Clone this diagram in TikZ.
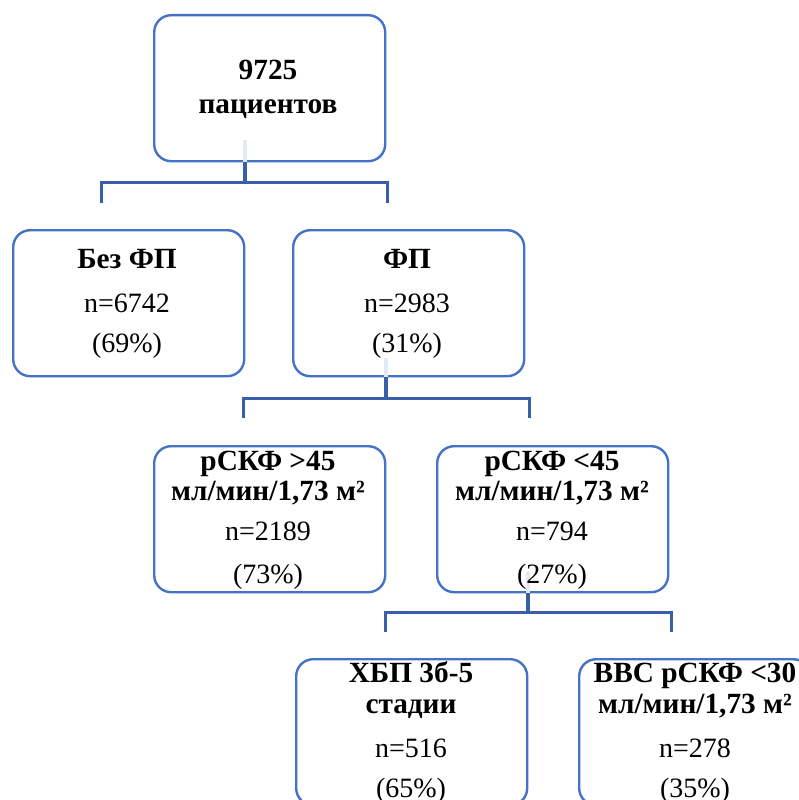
\documentclass[tikz,border=0pt]{standalone}
\usepackage{fontspec}
\setmainfont{Liberation Serif}
\definecolor{boxblue}{HTML}{4472C4}
\definecolor{connblue}{HTML}{3A5FAA}
\definecolor{stubblue}{HTML}{E4EAF5}
\tikzset{
  box/.style={draw=boxblue, line width=2.4pt, rounded corners=17pt, minimum width=231pt, minimum height=146pt, inner sep=0pt, anchor=north west},
  conn/.style={draw=connblue, line width=3pt},
  stem/.style={draw=connblue, line width=4.5pt},
  stub/.style={draw=stubblue, line width=4.5pt},
  bt/.style={font=\bfseries\fontsize{29.3}{34}\selectfont, anchor=base, inner sep=0pt},
  rt/.style={font=\fontsize{28}{34}\selectfont, anchor=base, inner sep=0pt},
}
\begin{document}
\begin{tikzpicture}[x=1pt,y=-1pt]
\useasboundingbox (0,0) rectangle (799,800);
\clip (0,0) rectangle (799,800);
% boxes
\node[box] (top) at (153,14) {};
\node[box] (a1) at (12,229) {};
\node[box] (a2) at (292,229) {};
\node[box] (b1) at (153,445) {};
\node[box] (b2) at (436,445) {};
\node[box] (c1) at (295,658) {};
\node[box] (c2) at (578,658) {};
% junction coordinates
\coordinate (j1) at (245,182);
\coordinate (j1l) at (101,182);
\coordinate (j1r) at (387,182);
\coordinate (e1l) at (101,203);
\coordinate (e1r) at (387,203);
\coordinate (j2) at (386,398);
\coordinate (j2l) at (243,398);
\coordinate (j2r) at (529,398);
\coordinate (e2l) at (243,418);
\coordinate (e2r) at (529,418);
\coordinate (j3) at (528,612.5);
\coordinate (j3l) at (385,612.5);
\coordinate (j3r) at (671,612.5);
\coordinate (e3l) at (385,632);
\coordinate (e3r) at (671,632);
% stubs
\draw[stub] (top.south -| j1) -- ++(0,-22);
\draw[stub] (a2.south -| j2) -- ++(0,-19);
\draw[stub] (b2.south -| j3) -- ++(0,-21);
% connectors
\draw[stem] (top.south -| j1) -- (j1);
\draw[conn] (e1l) -- (j1l) -- (j1r) -- (e1r);
\draw[stem] (a2.south -| j2) -- (j2);
\draw[conn] (e2l) -- (j2l) -- (j2r) -- (e2r);
\draw[stem] (b2.south -| j3) -- (j3);
\draw[conn] (e3l) -- (j3l) -- (j3r) -- (e3r);
% texts
\node[bt] (t1) at (268,80) {9725};
\node[bt] (t2) at (268,113) {пациентов};
\node[bt] (a1t1) at (127,268) {Без ФП};
\node[rt] (a1t2) at (127,312) {n=6742};
\node[rt] (a1t3) at (127,352) {(69\%)};
\node[bt] (a2t1) at (407,268) {ФП};
\node[rt] (a2t2) at (407,312) {n=2983};
\node[rt] (a2t3) at (407,352) {(31\%)};
\node[bt] (b1t1) at (268,470) {рСКФ >45};
\node[bt] (b1t2) at (268,500) {мл/мин/1,73 м²};
\node[rt] (b1t3) at (268,540) {n=2189};
\node[rt] (b1t4) at (268,583) {(73\%)};
\node[bt] (b2t1) at (552,470) {рСКФ <45};
\node[bt] (b2t2) at (552,500) {мл/мин/1,73 м²};
\node[rt] (b2t3) at (552,540) {n=794};
\node[rt] (b2t4) at (552,583) {(27\%)};
\node[bt] (c1t1) at (411,682) {ХБП 3б-5};
\node[bt] (c1t2) at (411,713) {стадии};
\node[rt] (c1t3) at (411,757) {n=516};
\node[rt] (c1t4) at (411,797) {(65\%)};
\node[bt] (c2t1) at (695,682) {ВВС рСКФ <30};
\node[bt] (c2t2) at (695,713) {мл/мин/1,73 м²};
\node[rt] (c2t3) at (695,757) {n=278};
\node[rt] (c2t4) at (695,797) {(35\%)};
\end{tikzpicture}
\end{document}
